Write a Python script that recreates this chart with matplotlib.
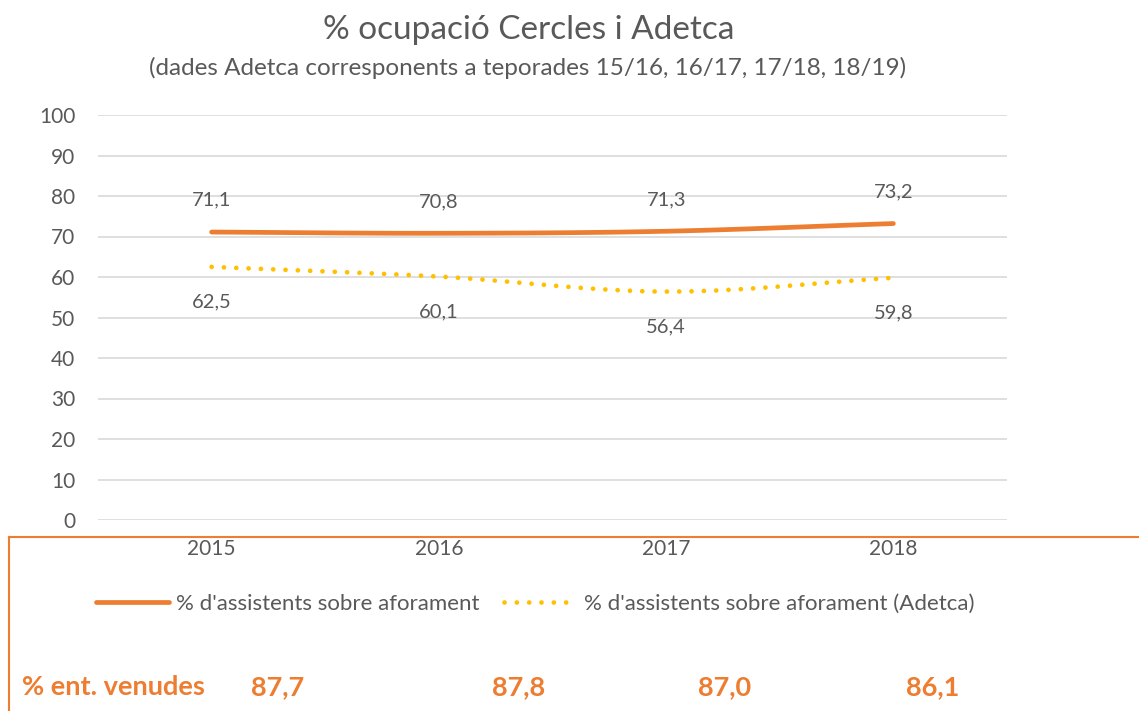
import matplotlib
matplotlib.use("Agg")
import matplotlib.pyplot as plt
from matplotlib.lines import Line2D
import numpy as np

years = ["2015", "2016", "2017", "2018"]
cercles = [71.1, 70.8, 71.3, 73.2]
adetca = [62.5, 60.1, 56.4, 59.8]
venudes = ["87,7", "87,8", "87,0", "86,1"]
label_cercles = "% d'assistents sobre aforament"
label_adetca = "% d'assistents sobre aforament (Adetca)"

plt.rcParams['font.family'] = ['Lato', 'DejaVu Sans']
ORANGE = "#ED7D31"
YELLOW = "#FFC000"
GRAY = "#595959"

def smooth(y, n=40):
    y = np.asarray(y, float)
    x = np.arange(len(y), dtype=float)
    p = np.concatenate([[2*y[0]-y[1]], y, [2*y[-1]-y[-2]]])
    xs, ys = [], []
    for i in range(len(y)-1):
        p0, p1, p2, p3 = p[i], p[i+1], p[i+2], p[i+3]
        t = np.linspace(0, 1, n, endpoint=(i == len(y)-2))
        c1 = p1 + (p2 - p0) / 6
        c2 = p2 - (p3 - p1) / 6
        b = (1-t)**3*p1 + 3*(1-t)**2*t*c1 + 3*(1-t)*t**2*c2 + t**3*p2
        xs.append(x[i] + t)
        ys.append(b)
    return np.concatenate(xs), np.concatenate(ys)

W, H = 1139, 711
fig = plt.figure(figsize=(W/100, H/100), dpi=100)
ax = fig.add_axes([98/W, 1-520/H, (1007-98)/W, (520-115)/H])

x = np.arange(len(years))
sx, sy = smooth(cercles)
ax.plot(sx, sy, color=ORANGE, lw=3.4, solid_capstyle='round', zorder=3)
sx2, sy2 = smooth(adetca)
ax.plot(sx2, sy2, color=YELLOW, lw=3.4, linestyle=(0, (0.01, 2.6)),
        dash_capstyle='round', zorder=3)

for xi, v in zip(x, cercles):
    ax.annotate(f"{v:.1f}".replace('.', ','), (xi, v), xytext=(0, 16.7),
                textcoords='offset points', ha='center', va='bottom',
                fontsize=14.5, color=GRAY)
for xi, v in zip(x, adetca):
    ax.annotate(f"{v:.1f}".replace('.', ','), (xi, v), xytext=(0, -19),
                textcoords='offset points', ha='center', va='top',
                fontsize=14.5, color=GRAY)

ax.set_xlim(-0.5, len(years)-0.5)
ax.set_ylim(0, 100)
ax.set_yticks(range(0, 101, 10))
ax.set_xticks(x)
ax.set_xticklabels(years)
ax.tick_params(axis='both', length=0, labelsize=15, colors=GRAY)
ax.tick_params(axis='x', pad=14)
ax.tick_params(axis='y', pad=16.4)
ax.grid(axis='y', color='#D9D9D9', lw=1.2)
ax.set_axisbelow(True)
for s in ax.spines.values():
    s.set_visible(False)

fig.text(529/W, 1-30/H, "% ocupació Cercles i Adetca", ha='center', va='center',
         fontsize=24, color=GRAY)
fig.text(528/W, 1-68/H, "(dades Adetca corresponents a teporades 15/16, 16/17, 17/18, 18/19)",
         ha='center', va='center', fontsize=17.5, color=GRAY)

handles = [Line2D([], [], color=ORANGE, lw=3.4, solid_capstyle='round'),
           Line2D([], [], color=YELLOW, lw=3.4, linestyle=(0, (0.01, 2.6)), dash_capstyle='round')]
fig.legend(handles, [label_cercles, label_adetca], loc='center', bbox_to_anchor=(535/W, 1-604/H),
           ncol=2, frameon=False, fontsize=16, labelcolor=GRAY, handlelength=3.3,
           handletextpad=0.3, columnspacing=1.1)

# orange frame
fig.add_artist(Line2D([9/W, 1.0], [1-537/H, 1-537/H], color=ORANGE, lw=1.5))
fig.add_artist(Line2D([9/W, 9/W], [1-537/H, 0], color=ORANGE, lw=1.5))

fig.text(22/W, 1-687/H, "% ent. venudes", ha='left', va='center', fontsize=19.5,
         fontweight='bold', color=ORANGE)
for cx, v in zip([278, 519, 725, 933], venudes):
    fig.text(cx/W, 1-687/H, v, ha='center', va='center', fontsize=19.5,
             fontweight='bold', color=ORANGE)

fig.savefig("out.png", dpi=100, facecolor='white')
